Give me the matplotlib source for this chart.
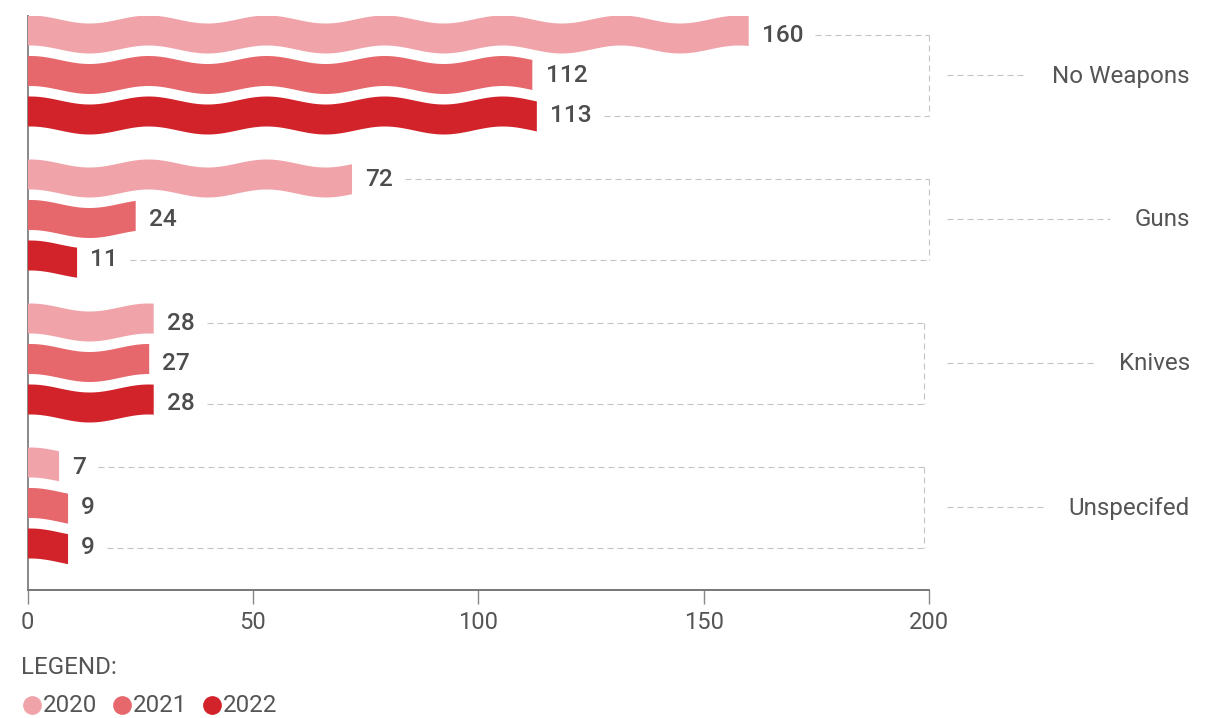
import numpy as np
import matplotlib
matplotlib.use("Agg")
import matplotlib.pyplot as plt

plt.rcParams['font.family'] = ['Roboto', 'DejaVu Sans']

categories = ["No Weapons", "Guns", "Knives", "Unspecifed"]
years = ["2020", "2021", "2022"]
values = {
    "2020": [160, 72, 28, 7],
    "2021": [112, 24, 27, 9],
    "2022": [113, 11, 28, 9],
}
colors = {"2020": "#F0A4AA", "2021": "#E6686D", "2022": "#D3232A"}
x_ticks = [0, 50, 100, 150, 200]

W, H = 1220, 718
fig = plt.figure(figsize=(W / 100, H / 100), dpi=100)
ov = fig.add_axes([0, 0, 1, 1], zorder=0)
ov.set_xlim(0, W)
ov.set_ylim(H, 0)
ov.axis('off')

ax_l, ax_r, ax_t, ax_b = 27.5, 929, 16, 590
ax = fig.add_axes([ax_l / W, 1 - ax_b / H, (ax_r - ax_l) / W, (ax_b - ax_t) / H], zorder=1)
ax.patch.set_alpha(0)
ax.set_xlim(0, 200)
ax.set_ylim(ax_b, ax_t)  # y data units = pixels from top

txt_col = "#555555"
dash_col = "#C4C4C4"
lw = 0.8
dstyle = (0, (5.4, 3.6))
fs = 17.4

group_gap, bar_gap, first_c = 144, 40.5, 34.5
bar_h, amp, period, phase0 = 30, 4.0, 26.2, 0.67

for sp in ["top", "right"]:
    ax.spines[sp].set_visible(False)
ax.spines["left"].set_color("#888888")
ax.spines["left"].set_linewidth(1.4)
ax.spines["bottom"].set_color("#777777")
ax.spines["bottom"].set_linewidth(1.4)
ax.set_yticks([])
ax.set_xticks(x_ticks)
ax.set_xticklabels([str(t) for t in x_ticks])
ax.tick_params(axis='x', length=10, width=1, color="#888888", pad=5,
               labelsize=17, labelcolor=txt_col)

fig.canvas.draw()
renderer = fig.canvas.get_renderer()

label_right = {}
centers = {}
for g, cat in enumerate(categories):
    for i, yr in enumerate(years):
        v = values[yr][g]
        yc = first_c + group_gap * g + bar_gap * i
        centers[(g, i)] = yc
        xs = np.linspace(0, v, 400)
        wave = amp * np.cos(2 * np.pi * (xs - phase0) / period)
        top = yc - bar_h / 2 - wave
        bot = yc + bar_h / 2 - wave
        ax.fill(np.concatenate([xs, xs[::-1]]), np.concatenate([top, bot[::-1]]),
                color=colors[yr], lw=0, zorder=3)
        t = ax.annotate(str(v), xy=(v, yc + 0.5), xytext=(9.5, 0), textcoords='offset points',
                        ha='left', va='center', fontsize=17.6, fontweight='medium',
                        color="#4d4d4d", zorder=4)
        label_right[(g, i)] = t

fig.canvas.draw()
bracket_x = [929, 929, 924, 924]
cat_right = 1190
for g, cat in enumerate(categories):
    bx = bracket_x[g]
    for i in (0, 2):
        bb = label_right[(g, i)].get_window_extent(renderer)
        x0 = bb.x1 + 12
        y = centers[(g, i)]
        ov.plot([x0, bx], [y, y], color=dash_col, lw=lw, ls=dstyle)
    ov.plot([bx, bx], [centers[(g, 0)], centers[(g, 2)]], color=dash_col, lw=lw, ls=dstyle)
    ym = centers[(g, 1)]
    ct = ov.text(cat_right, ym + 1, cat, ha='right', va='center', fontsize=fs, color=txt_col)
    fig.canvas.draw()
    cb = ct.get_window_extent(renderer)
    ov.plot([947, cb.x0 - 25], [ym, ym], color=dash_col, lw=lw, ls=dstyle)

# legend
ov.text(21, 667, "LEGEND:", ha='left', va='center', fontsize=fs, color=txt_col)
legend_x = [32, 122, 212]
for yr, lx in zip(years, legend_x):
    ov.plot([lx], [705], marker='o', ms=13.5, color=colors[yr], mec='none')
    ov.text(lx + 10.5, 705, yr, ha='left', va='center', fontsize=fs, color=txt_col)

fig.savefig("out.png", dpi=100)
